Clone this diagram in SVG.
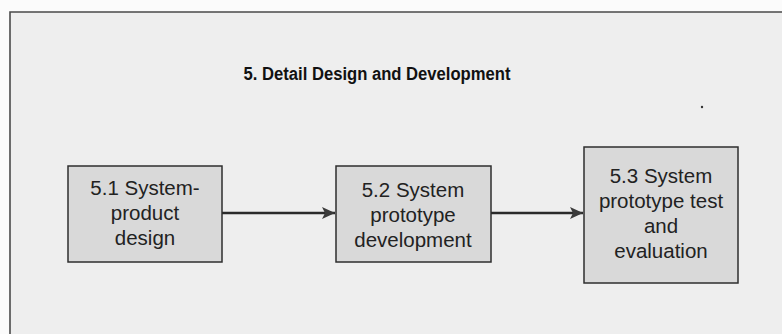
<svg xmlns="http://www.w3.org/2000/svg" width="782" height="334" viewBox="0 0 782 334">
  <style>
    .panel { fill: #eeeeee; }
    .frame { stroke: #4a4a4a; stroke-width: 1.6; fill: none; }
    .box { fill: #d9d9d9; stroke: #2e2e2e; stroke-width: 1.5; }
    .label { font-family: "Liberation Sans", Arial, sans-serif; font-size: 20.5px; fill: #222; text-anchor: middle; }
    .title { font-family: "Liberation Sans", Arial, sans-serif; font-size: 17.5px; font-weight: bold; fill: #111; text-anchor: middle; }
    .link { stroke: #2a2a2a; stroke-width: 2.6; fill: none; }
  </style>
  <defs>
    <marker id="head" markerUnits="userSpaceOnUse" markerWidth="14" markerHeight="14" refX="13" refY="7" orient="auto">
      <path d="M0,1 L13,7 L0,13 L3,7 Z" fill="#3a3a3a"/>
    </marker>
  </defs>

  <!-- page and panel -->
  <rect x="0" y="0" width="782" height="334" fill="#fbfbfb"/>
  <rect class="panel" x="10" y="12" width="772" height="322"/>
  <path class="frame" d="M10,334 V12 H782"/>
  <circle cx="702" cy="107" r="1.2" fill="#333"/>

  <text class="title" x="377" y="80" textLength="267" lengthAdjust="spacingAndGlyphs">5. Detail Design and Development</text>

  <g id="connectors">
    <line class="link" x1="222" y1="213" x2="335" y2="213" marker-end="url(#head)"/>
    <line class="link" x1="491" y1="213" x2="583" y2="213" marker-end="url(#head)"/>
  </g>

  <g id="node-5-1">
    <rect class="box" x="68" y="166" width="154" height="96"/>
    <text class="label" x="145" y="195">5.1 System-</text>
    <text class="label" x="145" y="220">product</text>
    <text class="label" x="145" y="245">design</text>
  </g>

  <g id="node-5-2">
    <rect class="box" x="336" y="166" width="155" height="96"/>
    <text class="label" x="413" y="197">5.2 System</text>
    <text class="label" x="413" y="222">prototype</text>
    <text class="label" x="413" y="247">development</text>
  </g>

  <g id="node-5-3">
    <rect class="box" x="584" y="147" width="154" height="136"/>
    <text class="label" x="661" y="183">5.3 System</text>
    <text class="label" x="661" y="208">prototype test</text>
    <text class="label" x="661" y="233">and</text>
    <text class="label" x="661" y="258">evaluation</text>
  </g>
</svg>
